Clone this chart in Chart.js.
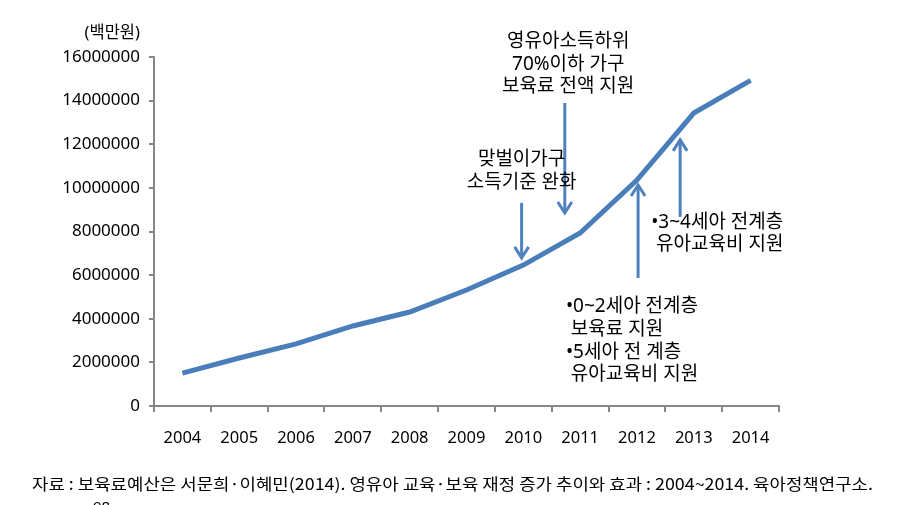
<!DOCTYPE html>
<html><head><meta charset="utf-8">
<script src="https://cdn.jsdelivr.net/npm/chart.js@4.4.1/dist/chart.umd.min.js"></script>
<style>html,body{margin:0;padding:0;background:#fff;overflow:hidden}#wrap{width:923px;height:505px;position:relative}</style>
</head><body><div id="wrap"><canvas id="c" width="923" height="505"></canvas></div>
<script>
// ---- data ----
const years = ['2004','2005','2006','2007','2008','2009','2010','2011','2012','2013','2014'];
const budget = [1510000, 2200000, 2850000, 3670000, 4310000, 5320000, 6460000, 7930000, 10360000, 13430000, 14930000];
const yTicks = [0, 2000000, 4000000, 6000000, 8000000, 10000000, 12000000, 14000000, 16000000];
const unitLabel = '(백만원)';
const sourceNote = '자료 : 보육료예산은 서문희·이혜민(2014). 영유아 교육·보육 재정 증가 추이와 효과 : 2004~2014. 육아정책연구소.';
const noteA = ['맞벌이가구', '소득기준 완화'];
const noteB = ['영유아소득하위', '70%이하 가구', '보육료 전액 지원'];
const noteC = ['•3~4세아 전계층', ' 유아교육비 지원'];
const noteD = ['•0~2세아 전계층', ' 보육료 지원', '•5세아 전 계층', ' 유아교육비 지원'];

// annotation placement (category index, value)
const arrows = [
  {i: 5.97, from: 9310000, to: 6790000},
  {i: 6.73, from: 13890000, to: 8850000},
  {i: 8.02, from: 5870000, to: 10130000},
  {i: 8.76, from: 8670000, to: 12200000}
];
const notes = [
  {lines: noteA, i: 5.97, v: 11280000, align: 'center', lh: 23},
  {lines: noteB, i: 6.79, v: 16690000, align: 'center', lh: 22.5},
  {lines: noteC, i: 8.25, v: 8390000, align: 'left', lh: 22},
  {lines: noteD, i: 6.75, v: 4540000, align: 'left', lh: 22.7}
];

const FONT = '"Noto Sans", "Noto Sans CJK KR", sans-serif';
const BLUE = '#4A7EBB';
const ARROW = '#4F81BD';
const AXIS = '#868686';

const annot = {
  id: 'annot',
  afterDraw(chart) {
    const ctx = chart.ctx;
    const xs = chart.scales.x, ys = chart.scales.y;
    const px = i => xs.getPixelForValue(0) + (xs.getPixelForValue(1) - xs.getPixelForValue(0)) * i;
    ctx.save();
    // unit label
    ctx.fillStyle = '#000';
    ctx.font = '16.5px ' + FONT;
    ctx.textAlign = 'right';
    ctx.textBaseline = 'middle';
    ctx.fillText(unitLabel, 140, 33);
    // arrows
    ctx.strokeStyle = ARROW;
    ctx.lineWidth = 3;
    ctx.lineCap = 'butt';
    arrows.forEach(a => {
      const x = px(a.i), y0 = ys.getPixelForValue(a.from), y1 = ys.getPixelForValue(a.to);
      const dir = y1 > y0 ? 1 : -1;
      ctx.beginPath();
      ctx.moveTo(x, y0);
      ctx.lineTo(x, y1 - dir * 1);
      ctx.stroke();
      ctx.beginPath();
      ctx.moveTo(x - 7, y1 - dir * 11);
      ctx.lineTo(x, y1);
      ctx.lineTo(x + 7, y1 - dir * 11);
      ctx.stroke();
    });
    // notes
    ctx.fillStyle = '#000';
    ctx.font = '19px ' + FONT;
    ctx.textBaseline = 'middle';
    notes.forEach(n => {
      ctx.textAlign = n.align;
      const x = px(n.i), y = ys.getPixelForValue(n.v);
      n.lines.forEach((t, k) => ctx.fillText(t, x, y + k * n.lh));
    });
    // source
    ctx.font = '16px "Noto Sans CJK KR", sans-serif';
    ctx.textAlign = 'left';
    const w = ctx.measureText(sourceNote).width;
    ctx.save();
    ctx.translate(32, 484);
    ctx.scale(841 / w, 1);
    ctx.fillText(sourceNote, 0, 0);
    ctx.restore();
    ctx.font = '15px ' + FONT;
    ctx.textBaseline = 'top';
    ctx.fillText('98', 93, 500);
    ctx.restore();
  }
};

new Chart(document.getElementById('c'), {
  type: 'line',
  data: {
    labels: years,
    datasets: [{
      data: budget,
      borderColor: BLUE,
      borderWidth: 5,
      pointRadius: 0,
      tension: 0,
      fill: false,
      borderJoinStyle: 'miter'
    }]
  },
  options: {
    responsive: false,
    animation: false,
    devicePixelRatio: 1,
    layout: {padding: {left: 0, right: 144, top: 57, bottom: 0}},
    plugins: {legend: {display: false}, tooltip: {enabled: false}, title: {display: false}},
    scales: {
      x: {
        type: 'category',
        offset: true,
        grid: {offset: true, drawOnChartArea: false, drawTicks: true, tickLength: 6, color: AXIS, lineWidth: 2},
        border: {color: AXIS, width: 2},
        ticks: {color: '#000', font: {size: 16.5, family: FONT}, padding: 16, maxRotation: 0},
        afterFit: s => { s.height = 99; }
      },
      y: {
        min: 0, max: 16000000,
        afterBuildTicks: s => { s.ticks = yTicks.map(v => ({value: v})); },
        grid: {drawOnChartArea: false, drawTicks: true, tickLength: 5, color: AXIS, lineWidth: 2},
        border: {color: AXIS, width: 2},
        ticks: {color: '#000', font: {size: 17, family: FONT}, padding: 9, callback: v => String(v)},
        afterFit: s => { s.width = 154; }
      }
    }
  },
  plugins: [annot]
});
</script></body></html>
